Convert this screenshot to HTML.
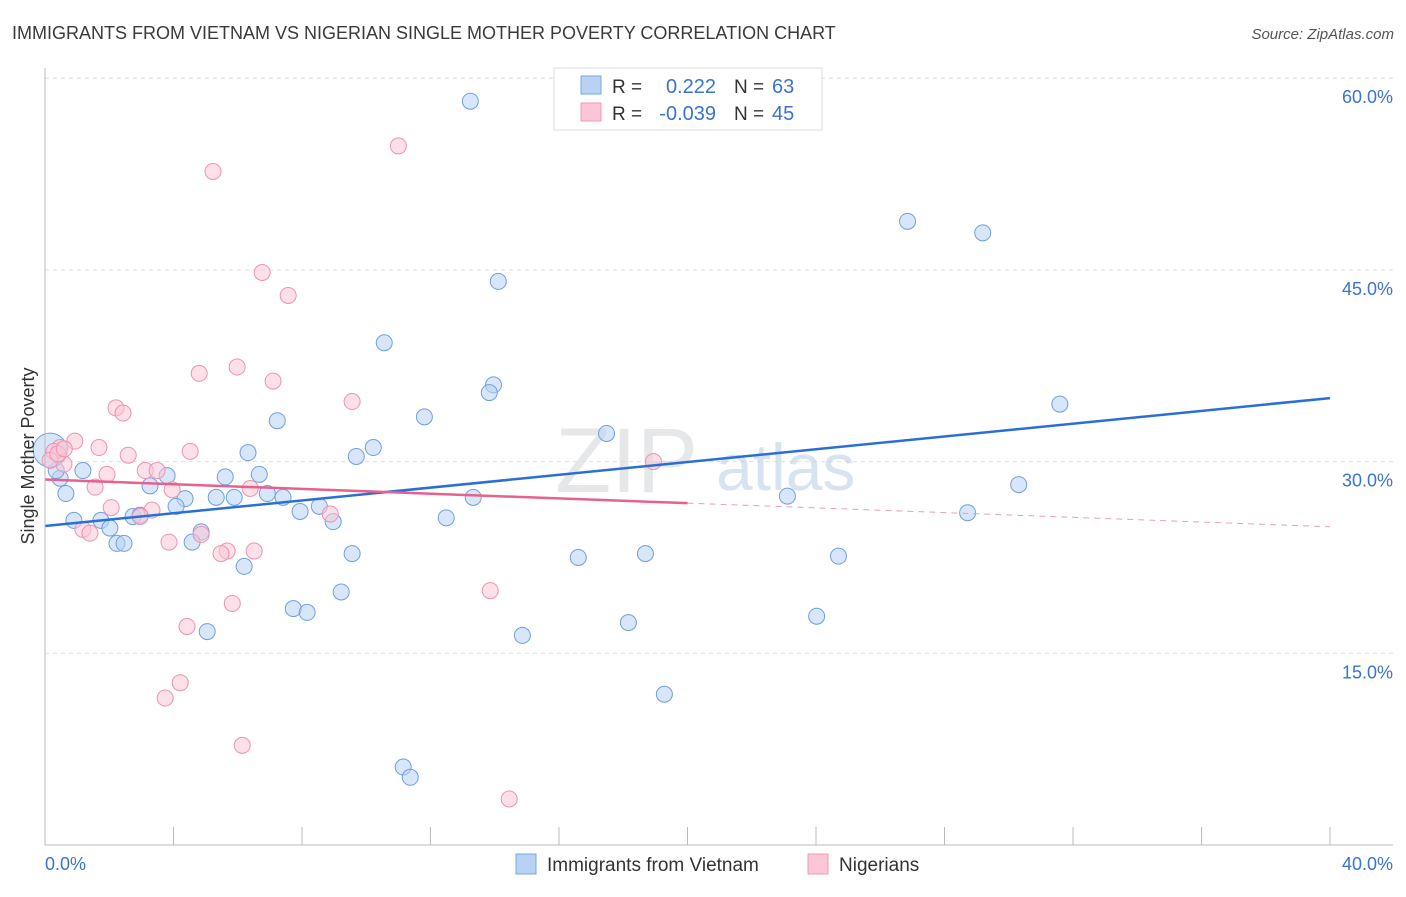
<!DOCTYPE html>
<html><head><meta charset="utf-8"><style>
body{margin:0;background:#fff;font-family:"Liberation Sans",sans-serif}
svg text{font-family:"Liberation Sans",sans-serif}
</style></head><body>
<svg id="chart" width="1406" height="892" xmlns="http://www.w3.org/2000/svg">
<text x="12" y="39" font-size="18" fill="#3a3a3a">IMMIGRANTS FROM VIETNAM VS NIGERIAN SINGLE MOTHER POVERTY CORRELATION CHART</text>
<text x="1394" y="39" font-size="15" fill="#555" text-anchor="end" font-style="italic">Source: ZipAtlas.com</text>
<g id="grid"></g>
<text x="555" y="492" font-size="92" fill="#d5d8dc" font-family="Liberation Serif" opacity="0.6">ZIP</text>
<text x="716" y="490" font-size="66" fill="#b9cde8" opacity="0.55">atlas</text>
<g id="points"></g>
<g id="trends"></g>
<g id="axes"></g>
<text transform="translate(34,456) rotate(-90)" font-size="18" fill="#333" text-anchor="middle">Single Mother Poverty</text>
<g>
<rect x="554" y="68" width="268" height="62" fill="#fff" stroke="#ddd"/>
<rect x="581" y="76" width="20" height="18" fill="#b8d2f4" stroke="#7aa6e6"/>
<rect x="581" y="103" width="20" height="18" fill="#fcc6d6" stroke="#f09ab6"/>
<text x="612" y="93" font-size="19" fill="#333">R =</text>
<text x="716" y="93" font-size="20" fill="#3a73d0" text-anchor="end">0.222</text>
<text x="734" y="93" font-size="19" fill="#333">N =</text>
<text x="772" y="93" font-size="20" fill="#3a73d0">63</text>
<text x="612" y="120" font-size="19" fill="#333">R =</text>
<text x="716" y="120" font-size="20" fill="#3a73d0" text-anchor="end">-0.039</text>
<text x="734" y="120" font-size="19" fill="#333">N =</text>
<text x="772" y="120" font-size="20" fill="#3a73d0">45</text>
</g>
<g>
<rect x="516" y="854" width="20" height="20" fill="#b8d2f4" stroke="#7aa6e6"/>
<text x="547" y="871" font-size="19" fill="#333">Immigrants from Vietnam</text>
<rect x="808" y="854" width="20" height="20" fill="#fcc6d6" stroke="#f09ab6"/>
<text x="839" y="871" font-size="19" fill="#333">Nigerians</text>
</g>
</svg>
<script>
const blueX=[13.24,26.85,29.19,14.11,10.56,13.96,13.83,31.59,11.81,7.23,17.48,10.22,6.32,9.69,1.18,3.80,5.61,6.67,3.27,30.31,0.65,4.36,5.33,5.89,6.92,7.41,13.33,23.11,4.08,7.94,8.54,12.49,28.72,8.97,0.90,1.74,2.02,2.74,2.96,4.86,4.58,2.24,2.46,9.56,16.60,18.69,24.70,6.20,9.22,7.73,8.16,18.16,24.02,5.05,14.86,19.28,11.15,11.37,0.47,19.78,0.35,0.16];
const blueY=[58.2,48.8,47.9,44.1,39.3,36.0,35.4,34.5,33.5,33.2,32.2,31.1,30.7,30.4,29.3,28.9,28.8,29.0,28.1,28.2,27.5,27.1,27.2,27.2,27.5,27.2,27.2,27.3,26.5,26.1,26.5,25.6,26.0,25.3,25.4,25.4,24.8,25.7,25.8,24.5,23.7,23.6,23.6,22.8,22.5,22.8,22.6,21.8,19.8,18.5,18.2,17.4,17.9,16.7,16.4,11.8,6.1,5.3,28.7,58.3,29.3,30.9];
const pinkX=[11.00,5.23,6.76,7.57,5.98,4.80,7.10,9.56,2.21,2.43,0.93,1.68,4.52,2.59,0.47,0.59,1.93,3.12,3.49,18.94,1.56,3.96,6.39,2.06,3.33,2.96,8.88,1.18,1.40,4.86,3.86,5.67,5.48,6.51,13.86,5.83,4.42,4.21,3.74,6.14,14.45,0.28,0.16,0.40,0.60];
const pinkY=[54.7,52.7,44.8,43.0,37.4,36.9,36.3,34.7,34.2,33.8,31.6,31.1,30.8,30.5,31.1,29.8,29.0,29.3,29.3,30.0,28.0,27.8,27.9,26.4,26.2,25.7,25.9,24.7,24.4,24.3,23.7,23.0,22.8,23.0,19.9,18.9,17.1,12.7,11.5,7.8,3.6,30.8,30.1,30.6,31.0];
const blueTrend=[0,24.96,40,34.97];
const pinkTrend=[0,28.6,20,26.75,40,24.9];
const yTicks=[15,30,45,60];
const xTicks=[0,4,8,12,16,20,24,28,32,36,40];
const X=v=>45+v*32.125, Y=v=>845-v*12.78;
const NS="http://www.w3.org/2000/svg";
function mk(p,t,a){const e=document.createElementNS(NS,t);for(const k in a)e.setAttribute(k,a[k]);p.appendChild(e);return e;}
const grid=document.getElementById('grid'),pts=document.getElementById('points'),tr=document.getElementById('trends'),ax=document.getElementById('axes');
yTicks.forEach(v=>{
 const l=mk(grid,'line',{x1:45,x2:1393,y1:Y(v),y2:Y(v),stroke:'#dde0e4','stroke-dasharray':'4,4'});
 
 
 const t=mk(ax,'text',{x:1393,y:Y(v)+25,'font-size':18,fill:'#3a73d0','text-anchor':'end'});t.textContent=v.toFixed(1)+'%';
 
 
});
mk(grid,'line',{x1:45,x2:1393,y1:Y(60),y2:Y(60),stroke:'#dde0e4','stroke-dasharray':'4,4'});
const a1=mk(ax,'line',{x1:45,x2:45,y1:68,y2:845,stroke:'#bbb'});


const a2=mk(ax,'line',{x1:45,x2:1393,y1:845,y2:845,stroke:'#bbb'});


xTicks.forEach(v=>{const t=mk(ax,'line',{x1:X(v),x2:X(v),y1:827,y2:845,stroke:'#bbb'});
 
 });
[[0,'start',45],[40,'end',1393]].forEach(([v,an,x])=>{const t=mk(ax,'text',{x:x,y:870,'font-size':18,fill:'#3a73d0','text-anchor':an});t.textContent=v.toFixed(1)+'%';
 
 });
function dots(xs,ys,fill,stroke,name){xs.forEach((x,i)=>{const big=(x<0.2&&i===xs.length-1);
 const c=mk(pts,'circle',{cx:X(x),cy:Y(ys[i]),r:big?(name==='blue-point'?17:12):8,fill:fill,stroke:stroke,'stroke-width':1,'fill-opacity':0.55});
 
 });}
dots(blueX,blueY,'#b8d2f4','#6f9fe0','blue-point');
dots(pinkX,pinkY,'#fcc6d6','#ee93b0','pink-point');
const bl=mk(tr,'line',{x1:X(blueTrend[0]),y1:Y(blueTrend[1]),x2:X(blueTrend[2]),y2:Y(blueTrend[3]),stroke:'#2a6fd6','stroke-width':2.5});


const pl=mk(tr,'line',{x1:X(pinkTrend[0]),y1:Y(pinkTrend[1]),x2:X(pinkTrend[2]),y2:Y(pinkTrend[3]),stroke:'#e8608e','stroke-width':2.5});


const pd=mk(tr,'line',{x1:X(pinkTrend[2]),y1:Y(pinkTrend[3]),x2:X(pinkTrend[4]),y2:Y(pinkTrend[5]),stroke:'#e8a0b8','stroke-width':1,'stroke-dasharray':'6,5'});


</script>
</body></html>
